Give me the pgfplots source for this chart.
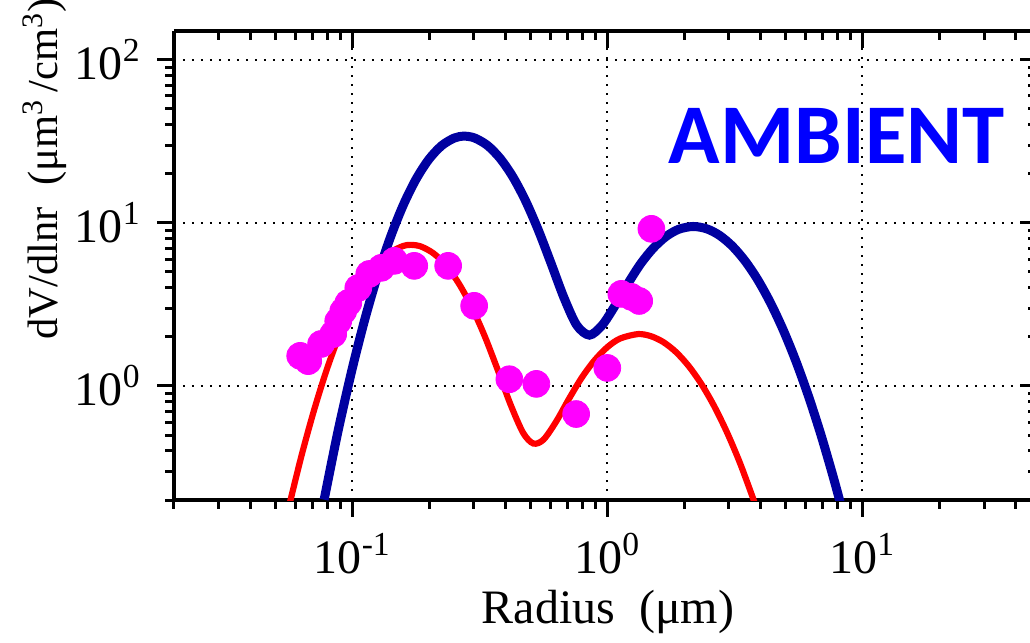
\documentclass[border=0pt]{standalone}
\usepackage{fontspec}
\setmainfont{Liberation Serif}
\newfontfamily\ambfont{Carlito}
\usepackage{pgfplots}
\pgfplotsset{compat=1.18}
\definecolor{navyb}{RGB}{0,0,160}
\definecolor{mag}{RGB}{255,0,255}
\definecolor{ambblue}{RGB}{0,0,255}
\begin{document}
\fontsize{24}{28}\selectfont
\begin{tikzpicture}
\begin{loglogaxis}[
  at={(0,0)}, anchor=south west,
  scale only axis, width=431.5pt, height=234.5pt,
  xmin=0.02, xmax=48.4, ymin=0.2, ymax=150,
  axis line style={line width=1.8pt, -},
  major tick length=8.5pt, minor tick length=4.5pt,
  every tick/.style={black, line width=1.5pt},
  xtick={0.1,1,10},
  ytick={1,10,100},
  minor xtick={0.02,0.03,0.04,0.05,0.06,0.07,0.08,0.09,0.2,0.3,0.4,0.5,0.6,0.7,0.8,0.9,2,3,4,5,6,7,8,9,20,30,40},
  minor ytick={0.2,0.3,0.4,0.5,0.6,0.7,0.8,0.9,2,3,4,5,6,7,8,9,20,30,40,50,60,70,80,90},
  tick label style={font=\fontsize{24}{28}\selectfont},
  xlabel style={font=\fontsize{24}{28}\selectfont},
  ylabel style={font=\fontsize{21.3}{25}\selectfont},
  axis x line*=bottom, axis y line*=left,
  tick align=outside,
  xticklabels={10\textsuperscript{-1},10\textsuperscript{0},10\textsuperscript{1}},
  yticklabels={10\textsuperscript{0},10\textsuperscript{1},10\textsuperscript{2}},
  grid=major,
  major grid style={black, line width=1pt, dash pattern=on 1pt off 3.5pt},
  xlabel={Radius\ \ (μm)},
  ylabel={dV/dlnr\ \ (μm\textsuperscript{3}\,/cm\textsuperscript{3})},
  xlabel style={at={(axis description cs:0.503,-0.239)}, anchor=center},
  ylabel style={at={(axis description cs:-0.150,0.706)}, anchor=center},
]
\addplot[only marks, mark=*, mark size=6.7pt, color=mag] coordinates {
(0.0625,1.53) (0.0672,1.42) (0.0755,1.81) (0.0842,2.08) (0.0881,2.50)
(0.0922,2.88) (0.0965,3.23) (0.1056,3.99) (0.1166,4.86) (0.130,5.30)
(0.1462,5.85) (0.175,5.45) (0.2377,5.45) (0.3006,3.10) (0.413,1.10)
(0.527,1.03) (0.755,0.673) (1.0,1.29) (1.135,3.67) (1.242,3.52)
(1.334,3.32) (1.489,9.19)
};
\addplot[smooth, color=navyb, line width=4.5pt] coordinates {
(0.0776,0.201) (0.0832,0.347) (0.0891,0.581) (0.1000,1.279) (0.1122,2.587)
(0.1259,4.80) (0.1413,8.20) (0.1585,12.85) (0.1778,18.49) (0.1995,24.45)
(0.2239,29.69) (0.2512,33.12) (0.2750,34.0) (0.3020,33.12) (0.3388,29.84)
(0.3802,24.83) (0.4266,19.11) (0.4786,13.6) (0.5370,8.99) (0.6026,5.62)
(0.6761,3.48) (0.7586,2.36) (0.8511,2.05) (0.9550,2.36) (1.0715,3.10)
(1.2023,4.22) (1.349,5.59) (1.5136,6.99) (1.698,8.24) (1.905,9.13)
(2.170,9.50) (2.455,9.19) (2.754,8.38) (3.090,7.21) (3.467,5.85)
(3.890,4.48) (4.365,3.23) (4.898,2.20) (5.495,1.414) (6.166,0.856)
(6.918,0.489) (7.762,0.263) (8.511,0.154)
};
\addplot[smooth, color=red, line width=3.1pt] coordinates {
(0.0562,0.177) (0.0631,0.369) (0.0708,0.709) (0.0794,1.257) (0.0891,2.057)
(0.1000,3.105) (0.1122,4.326) (0.1259,5.561) (0.1413,6.596) (0.1585,7.218)
(0.1702,7.33) (0.1862,7.158) (0.2089,6.477) (0.2344,5.420) (0.2630,4.195)
(0.2951,3.011) (0.3311,2.009) (0.3715,1.260) (0.4169,0.774) (0.4677,0.516)
(0.5129,0.444) (0.5623,0.469) (0.6310,0.607) (0.7079,0.835) (0.7943,1.125)
(0.8913,1.436) (1.000,1.729) (1.122,1.953) (1.318,2.08) (1.479,2.022)
(1.660,1.857) (1.862,1.611) (2.089,1.320) (2.344,1.022) (2.630,0.748)
(2.951,0.517) (3.311,0.338) (3.715,0.208) (3.890,0.169)
};
\node[font=\ambfont\bfseries\fontsize{42.5}{50}\selectfont, text=ambblue] at (axis description cs:0.768,0.776) {AMBIENT};
\end{loglogaxis}
\begin{loglogaxis}[
  at={(0,0)}, anchor=south west,
  scale only axis, width=431.5pt, height=234.5pt,
  xmin=0.02, xmax=48.4, ymin=0.2, ymax=150,
  axis line style={line width=1.8pt, -},
  major tick length=8.5pt, minor tick length=4.5pt,
  every tick/.style={black, line width=1.5pt},
  xtick={0.1,1,10},
  ytick={1,10,100},
  minor xtick={0.02,0.03,0.04,0.05,0.06,0.07,0.08,0.09,0.2,0.3,0.4,0.5,0.6,0.7,0.8,0.9,2,3,4,5,6,7,8,9,20,30,40},
  minor ytick={0.2,0.3,0.4,0.5,0.6,0.7,0.8,0.9,2,3,4,5,6,7,8,9,20,30,40,50,60,70,80,90},
  axis x line*=top, axis y line*=right,
  tick align=inside,
  xticklabels={}, yticklabels={},
]
\end{loglogaxis}
\pgfresetboundingbox
\path (-87pt,-71.5pt) rectangle (428pt,250pt);
\end{tikzpicture}
\end{document}
